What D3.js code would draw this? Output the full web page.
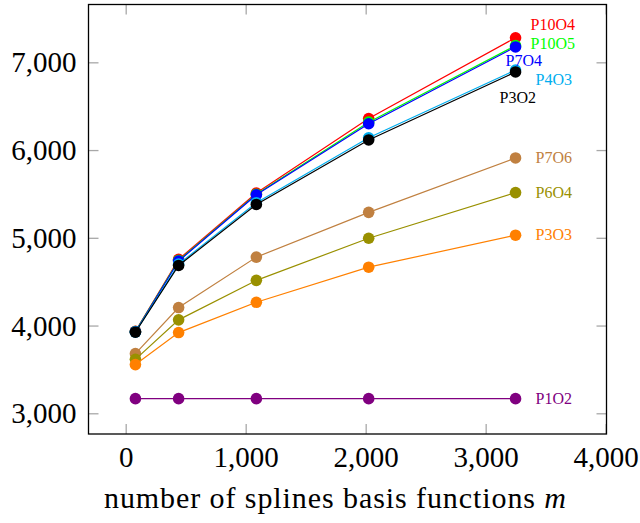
<!DOCTYPE html>
<html>
<head>
<meta charset="utf-8">
<script src="https://cdn.jsdelivr.net/npm/d3@7"></script>
<style>
  html, body { margin: 0; padding: 0; background: #fff; }
  svg { display: block; }
  svg text { font-family: "Liberation Serif", "DejaVu Serif", "Noto Serif", serif !important; }
</style>
</head>
<body>
<svg id="chart" width="640" height="523"></svg>
<script>
// ---- data ----
const xValues = [81, 441, 1089, 2025, 3249];
const seriesNames = ["P1O2", "P7O6", "P6O4", "P3O3", "P10O4", "P10O5", "P7O4", "P4O3", "P3O2"];
const P1O2  = [3167, 3167, 3167, 3167, 3167];
const P7O6  = [3680, 4205, 4780, 5290, 5910];
const P6O4  = [3615, 4065, 4515, 4995, 5515];
const P3O3  = [3555, 3920, 4265, 4665, 5030];
const P10O4 = [3935, 4755, 5510, 6360, 7280];
const P10O5 = [3932, 4742, 5497, 6318, 7190];
const P7O4  = [3930, 4735, 5490, 6300, 7175];
const P4O3  = [3926, 4700, 5400, 6140, 6912];
const P3O2  = [3924, 4685, 5380, 6115, 6890];
const xTicks = [0, 1000, 2000, 3000, 4000];
const yTicks = [3000, 4000, 5000, 6000, 7000];
const xLabel = "number of splines basis functions ";
const xLabelVar = "m";

// ---- styles ----
const seriesValues = { P1O2, P7O6, P6O4, P3O3, P10O4, P10O5, P7O4, P4O3, P3O2 };
const colors = {
  P1O2: "#800080", P7O6: "#c08040", P6O4: "#999000", P3O3: "#ff8000",
  P10O4: "#ff0000", P10O5: "#00ff00", P7O4: "#0000ff", P4O3: "#00aeef", P3O2: "#000000"
};
// label offsets relative to the last marker (dx = left edge of text, dy = vertical center)
const labelOffset = {
  P10O4: [15, -13], P10O5: [15, -2], P7O4: [-10, 14], P4O3: [20, 10], P3O2: [-16, 26],
  P7O6: [20, 0], P6O4: [20, 0], P3O3: [20, 0], P1O2: [20, 0]
};
const FONT = "'Liberation Serif', 'DejaVu Serif', 'Noto Serif', serif";

const svg = d3.select("#chart");
const L = 88.5, R = 606.5, T = 4.5, B = 434;
const x = d3.scaleLinear().domain([-310, 4007]).range([L, R]);
const y = d3.scaleLinear().domain([2764, 7659]).range([B, T]);
const fmt = d3.format(",");
const tickLen = 10;
const tickColor = "#a8a8a8";

function styleAxis(g) {
  g.attr("font-family", FONT);
  g.select(".domain").remove();
  g.selectAll(".tick line").attr("stroke", tickColor).attr("stroke-width", 1.3);
}

// bottom axis
svg.append("g").attr("transform", `translate(0,${B})`)
  .call(d3.axisBottom(x).tickValues(xTicks).tickFormat(fmt).tickSizeInner(-tickLen).tickSizeOuter(0))
  .call(styleAxis)
  .call(g => g.selectAll(".tick text").attr("y", 23).attr("dy", "0.35em")
    .attr("font-size", 29).attr("fill", "#000").style("font-family", FONT));
// top axis (ticks only)
svg.append("g").attr("transform", `translate(0,${T})`)
  .call(d3.axisTop(x).tickValues(xTicks).tickFormat("").tickSizeInner(-tickLen).tickSizeOuter(0))
  .call(styleAxis);
// left axis
svg.append("g").attr("transform", `translate(${L},0)`)
  .call(d3.axisLeft(y).tickValues(yTicks).tickFormat(fmt).tickSizeInner(-tickLen).tickSizeOuter(0))
  .call(styleAxis)
  .call(g => g.selectAll(".tick text").attr("x", -12).attr("dy", "0.33em")
    .attr("font-size", 29).attr("fill", "#000").style("font-family", FONT));
// right axis (ticks only)
svg.append("g").attr("transform", `translate(${R},0)`)
  .call(d3.axisRight(y).tickValues(yTicks).tickFormat("").tickSizeInner(-tickLen).tickSizeOuter(0))
  .call(styleAxis);

// series
const line = d3.line().x((d, i) => x(xValues[i])).y(d => y(d));
seriesNames.forEach(name => {
  const vals = seriesValues[name];
  const g = svg.append("g");
  g.append("path").attr("d", line(vals)).attr("fill", "none")
    .attr("stroke", colors[name]).attr("stroke-width", 1.2);
  g.selectAll("circle").data(vals).join("circle")
    .attr("cx", (d, i) => x(xValues[i])).attr("cy", d => y(d)).attr("r", 5.8)
    .attr("fill", colors[name]);
});

// end labels
seriesNames.forEach(name => {
  const vals = seriesValues[name];
  const last = vals[vals.length - 1];
  const off = labelOffset[name];
  svg.append("text")
    .attr("x", x(xValues[xValues.length - 1]) + off[0])
    .attr("y", y(last) + off[1])
    .attr("dy", "0.33em")
    .attr("font-size", 16)
    .style("font-family", FONT)
    .attr("fill", colors[name])
    .text(name);
});

// frame
svg.append("rect").attr("x", L).attr("y", T).attr("width", R - L).attr("height", B - T)
  .attr("fill", "none").attr("stroke", "#000").attr("stroke-width", 1.3);

// x axis title
const title = svg.append("text")
  .attr("x", 335).attr("y", 497).attr("dy", "0.35em")
  .attr("text-anchor", "middle").attr("font-size", 30).attr("fill", "#000")
  .attr("textLength", 462).attr("lengthAdjust", "spacing")
  .style("font-family", FONT);
title.append("tspan").text(xLabel);
title.append("tspan").attr("font-style", "italic").text(xLabelVar);
</script>
</body>
</html>
